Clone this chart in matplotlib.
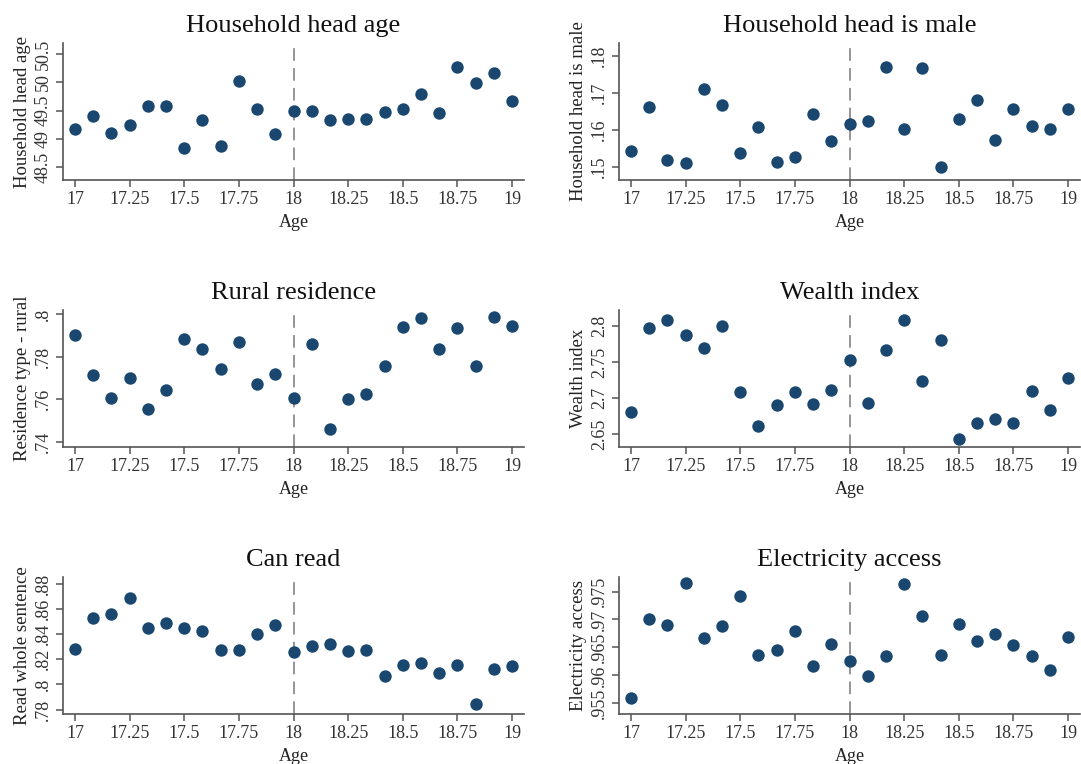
import numpy as np
import matplotlib.pyplot as plt

# age in years, one point per month from 17 to 19
age = [17 + m / 12 for m in range(25)]

head_age = [49.18, 49.40, 49.11, 49.25, 49.59, 49.58, 48.83, 49.33, 48.88, 50.02, 49.53, 49.09,
            49.50, 49.50, 49.34, 49.35, 49.36, 49.47, 49.53, 49.80, 49.46, 50.28, 49.99, 50.16, 49.68]
head_male = [.1544, .1662, .1519, .1511, .1711, .1667, .1538, .1607, .1514, .1526, .1642, .1569,
             .1616, .1625, .1769, .1603, .1767, .1500, .1629, .1682, .1572, .1656, .1612, .1602, .1656]
rural = [.7900, .7712, .7608, .7700, .7552, .7645, .7883, .7837, .7742, .7869, .7673, .7718,
         .7605, .7860, .7460, .7603, .7624, .7758, .7942, .7983, .7835, .7934, .7758, .7988, .7944]
wealth = [2.6815, 2.7974, 2.8091, 2.7882, 2.7697, 2.8003, 2.7088, 2.6610, 2.6903, 2.7088, 2.6922, 2.7117,
          2.7536, 2.6942, 2.7677, 2.8086, 2.7234, 2.7809, 2.6435, 2.6654, 2.6717, 2.6664, 2.7102, 2.6839, 2.7283]
can_read = [.8279, .8529, .8562, .8685, .8450, .8488, .8453, .8426, .8274, .8274, .8403, .8474,
            .8262, .8306, .8324, .8268, .8271, .8068, .8153, .8168, .8094, .8156, .7841, .8124, .8150]
electricity = [.9559, .9701, .9690, .9766, .9667, .9688, .9742, .9637, .9646, .9680, .9616, .9657,
               .9626, .9599, .9634, .9764, .9707, .9637, .9692, .9662, .9674, .9654, .9634, .9609, .9669]

titles = ['Household head age', 'Household head is male', 'Rural residence',
          'Wealth index', 'Can read', 'Electricity access']
ylabels = ['Household head age', 'Household head is male', 'Residence type - rural',
           'Wealth index', 'Read whole sentence', 'Electricity access']
series = [head_age, head_male, rural, wealth, can_read, electricity]

yticks = [[48.5, 49, 49.5, 50, 50.5],
          [.15, .16, .17, .18],
          [.74, .76, .78, .8],
          [2.65, 2.7, 2.75, 2.8],
          [.78, .8, .82, .84, .86, .88],
          [.955, .96, .965, .97, .975]]
ytick_labels = [['48.5', '49', '49.5', '50', '50.5'],
                ['.15', '.16', '.17', '.18'],
                ['.74', '.76', '.78', '.8'],
                ['2.65', '2.7', '2.75', '2.8'],
                ['.78', '.8', '.82', '.84', '.86', '.88'],
                ['.955', '.96', '.965', '.97', '.975']]
ylims = [(48.27, 50.70), (.1465, .1835), (.7375, .8020), (2.6325, 2.8225),
         (.7765, .8855), (.9531, .9776)]

xticks = [17, 17.25, 17.5, 17.75, 18, 18.25, 18.5, 18.75, 19]
xtick_labels = ['17', '17.25', '17.5', '17.75', '18', '18.25', '18.5', '18.75', '19']

plt.rcParams['font.family'] = ['Liberation Serif', 'DejaVu Serif']

W, H = 1081, 764
fig = plt.figure(figsize=(W / 100, H / 100), dpi=100)

lefts = [63, 619]
tops = [43, 310, 577]
aw, ah = 461, 137

for i in range(6):
    r, c = divmod(i, 2)
    x0, y0 = lefts[c], tops[r]
    ax = fig.add_axes([x0 / W, 1 - (y0 + ah) / H, aw / W, ah / H])
    ax.axvline(18, color='#8c8c8c', lw=1.3, dashes=(7, 4), zorder=1)
    ax.scatter(age, series[i], s=80, color='#1a476f', zorder=3, linewidths=0)
    ax.set_xlim(16.945, 19.055)
    ax.set_ylim(*ylims[i])
    ax.set_xticks(xticks)
    ax.set_xticklabels(xtick_labels)
    ax.set_yticks(yticks[i])
    ax.set_yticklabels(ytick_labels[i], rotation=90, va='center')
    for s in ['top', 'right']:
        ax.spines[s].set_visible(False)
    for s in ['left', 'bottom']:
        ax.spines[s].set_color('#555555')
        ax.spines[s].set_linewidth(1.2)
    ax.tick_params(length=5, width=1.1, color='#555555', labelcolor='#333333',
                   labelsize=13, pad=3)
    ax.set_title(titles[i], fontsize=19, pad=8, color='#111111')
    ax.set_xlabel('Age', fontsize=13, labelpad=4, color='#222222')
    ax.set_ylabel(ylabels[i], fontsize=13.5, labelpad=3, color='#222222')

fig.savefig('out.png', dpi=100)
